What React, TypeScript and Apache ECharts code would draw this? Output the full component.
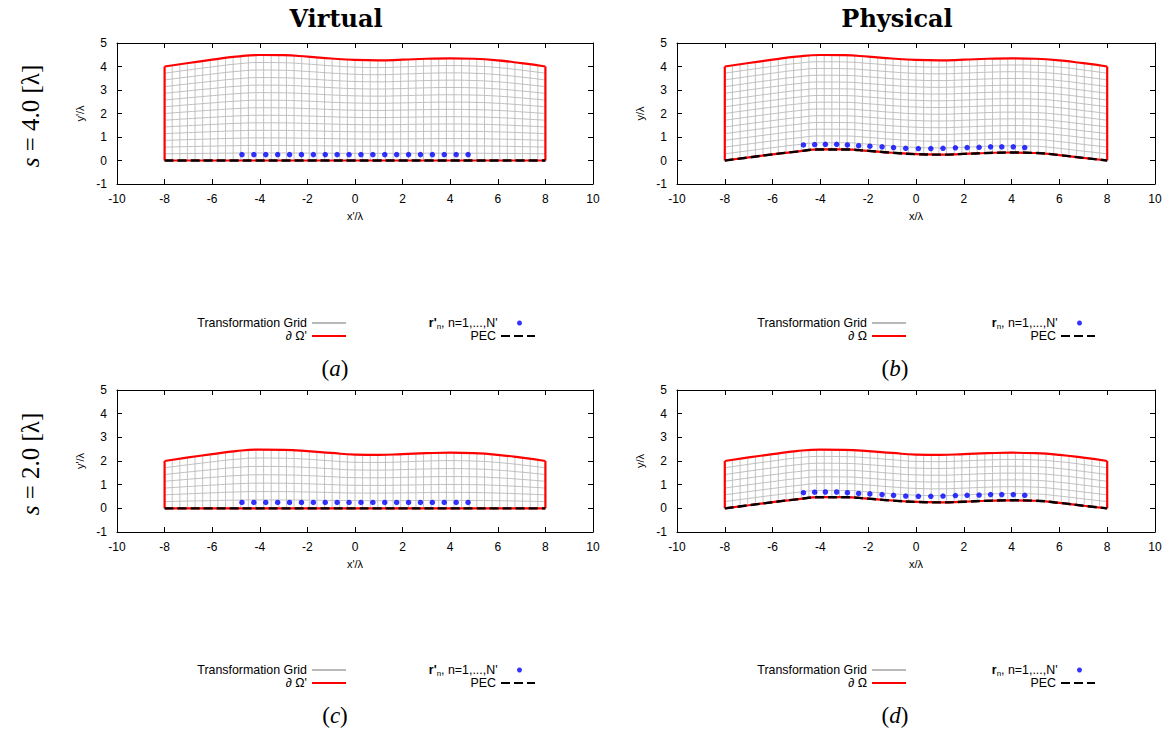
import React, { useEffect, useRef } from "react";
import * as echarts from "echarts";

// ---------- data ----------
const knotX = [-8, -7, -6, -5, -4, -3, -2, -1, 0, 1, 2, 3, 4, 5, 6, 7, 8];
const topS4 = [4.0, 4.15, 4.29, 4.42, 4.49, 4.48, 4.42, 4.34, 4.28, 4.26, 4.29, 4.33, 4.35, 4.33, 4.26, 4.14, 4.0];
const topS2 = [2.0, 2.15, 2.29, 2.42, 2.48, 2.47, 2.42, 2.34, 2.27, 2.26, 2.29, 2.33, 2.35, 2.33, 2.26, 2.14, 2.0];
const bottomVirtual = [0, 0, 0, 0, 0, 0, 0, 0, 0, 0, 0, 0, 0, 0, 0, 0, 0];
const bottomPhysical = [0.0, 0.13, 0.26, 0.38, 0.47, 0.47, 0.41, 0.33, 0.27, 0.25, 0.28, 0.32, 0.34, 0.32, 0.23, 0.11, 0.0];

const virtualPtX = [-4.75, -4.25, -3.75, -3.25, -2.75, -2.25, -1.75, -1.25, -0.75, -0.25, 0.25, 0.75, 1.25, 1.75, 2.25, 2.75, 3.25, 3.75, 4.25, 4.75];
const virtualPtY = [0.25, 0.25, 0.25, 0.25, 0.25, 0.25, 0.25, 0.25, 0.25, 0.25, 0.25, 0.25, 0.25, 0.25, 0.25, 0.25, 0.25, 0.25, 0.25, 0.25];
const physicalPtX = [-4.71, -4.24, -3.79, -3.32, -2.87, -2.4, -1.93, -1.42, -0.94, -0.43, 0.1, 0.62, 1.13, 1.65, 2.14, 2.64, 3.12, 3.59, 4.07, 4.55];
const physicalPtY = [0.66, 0.68, 0.69, 0.69, 0.66, 0.63, 0.61, 0.58, 0.55, 0.52, 0.51, 0.51, 0.52, 0.54, 0.55, 0.56, 0.58, 0.58, 0.58, 0.55];

const gridColumns = 50;
const gridRowsS4 = 14;
const gridRowsS2 = 7;

const xMin = -10, xMax = 10, xStep = 2;
const yMin = -1, yMax = 5, yStep = 1;

const columnTitles = ["Virtual", "Physical"];
const rowValues = ["4.0", "2.0"];
const panelLetters = ["a", "b", "c", "d"];

// ---------- helpers ----------
const SANS = '"Liberation Sans", Arial, sans-serif';
const SERIF = '"Liberation Serif", "Times New Roman", serif';
const BREAK: any[] = ["-", "-"];

function interp(xs: number[], ys: number[], x: number) {
  for (let k = 0; k < xs.length - 1; k++) {
    if (x >= xs[k] && x <= xs[k + 1]) {
      const t = (x - xs[k]) / (xs[k + 1] - xs[k]);
      return ys[k] + (ys[k + 1] - ys[k]) * t;
    }
  }
  return ys[ys.length - 1];
}

function buildMesh(bottom: number[], top: number[], rows: number, cols: number) {
  const out: any[] = [];
  for (let j = 1; j < rows; j++) {
    knotX.forEach((x, k) => out.push([x, bottom[k] + ((top[k] - bottom[k]) * j) / rows]));
    out.push(BREAK);
  }
  const x0 = knotX[0], x1 = knotX[knotX.length - 1];
  for (let i = 1; i < cols; i++) {
    const x = x0 + ((x1 - x0) * i) / cols;
    out.push([x, interp(knotX, bottom, x)]);
    out.push([x, interp(knotX, top, x)]);
    out.push(BREAK);
  }
  return out;
}

function buildBoundary(bottom: number[], top: number[]) {
  const n = knotX.length - 1;
  const out: any[] = [];
  knotX.forEach((x, k) => out.push([x, top[k]]));
  out.push(BREAK);
  out.push([knotX[0], bottom[0]], [knotX[0], top[0]]);
  out.push(BREAK);
  out.push([knotX[n], bottom[n]], [knotX[n], top[n]]);
  out.push(BREAK);
  knotX.forEach((x, k) => out.push([x, bottom[k]]));
  return out;
}

type Panel = {
  left: number; top: number; width: number; height: number;
  physical: boolean; topCurve: number[]; rows: number;
};

const panels: Panel[] = [
  { left: 117, top: 43, width: 476, height: 141, physical: false, topCurve: topS4, rows: gridRowsS4 },
  { left: 677, top: 43, width: 478, height: 141, physical: true, topCurve: topS4, rows: gridRowsS4 },
  { left: 117, top: 390, width: 476, height: 142, physical: false, topCurve: topS2, rows: gridRowsS2 },
  { left: 677, top: 390, width: 478, height: 142, physical: true, topCurve: topS2, rows: gridRowsS2 },
];

const GRID_NAME = "Transformation Grid";
const PEC_NAME = "PEC";

function buildOption() {
  const grid: any[] = [];
  const xAxis: any[] = [];
  const yAxis: any[] = [];
  const series: any[] = [];
  const legend: any[] = [];
  const graphic: any[] = [];

  const axisLine = { onZero: false, lineStyle: { color: "#000", width: 1 } };
  const axisTick = { inside: true, length: 5, lineStyle: { color: "#000", width: 1 } };

  panels.forEach((p, i) => {
    grid.push({ left: p.left, top: p.top, width: p.width, height: p.height, containLabel: false });
    const prime = p.physical ? "" : "'";
    xAxis.push({
      type: "value", gridIndex: i, min: xMin, max: xMax, interval: xStep, position: "bottom",
      name: `x${prime}/λ`, nameLocation: "middle", nameGap: 26,
      nameTextStyle: { fontSize: 11, fontFamily: SANS, color: "#000" },
      axisLine, axisTick,
      axisLabel: { margin: 9, fontSize: 12, fontFamily: SANS, color: "#000" },
      splitLine: { show: false },
    });
    xAxis.push({
      type: "value", gridIndex: i, min: xMin, max: xMax, interval: xStep, position: "top",
      axisLine, axisTick, axisLabel: { show: false }, splitLine: { show: false },
    });
    yAxis.push({
      type: "value", gridIndex: i, min: yMin, max: yMax, interval: yStep, position: "left",
      name: `y${prime}/λ`, nameLocation: "middle", nameGap: 32, nameRotate: 90,
      nameTextStyle: { fontSize: 11, fontFamily: SANS, color: "#000" },
      axisLine, axisTick,
      axisLabel: { margin: 10, fontSize: 12, fontFamily: SANS, color: "#000" },
      splitLine: { show: false },
    });
    yAxis.push({
      type: "value", gridIndex: i, min: yMin, max: yMax, interval: yStep, position: "right",
      axisLine, axisTick, axisLabel: { show: false }, splitLine: { show: false },
    });

    const bottom = p.physical ? bottomPhysical : bottomVirtual;
    const boundaryName = p.physical ? "∂ Ω" : "∂ Ω'";
    const ptsName = p.physical ? "rn" : "r'n";
    const xi = i * 2, yi = i * 2;

    series.push({
      type: "line", name: GRID_NAME, xAxisIndex: xi, yAxisIndex: yi,
      data: buildMesh(bottom, p.topCurve, p.rows, gridColumns),
      smooth: true, symbol: "none", connectNulls: false, z: 1,
      lineStyle: { color: "#b9b9b9", width: 0.9 }, itemStyle: { color: "#b9b9b9" },
      emphasis: { disabled: true }, silent: true,
    });
    series.push({
      type: "line", name: boundaryName, xAxisIndex: xi, yAxisIndex: yi,
      data: buildBoundary(bottom, p.topCurve),
      smooth: true, symbol: "none", connectNulls: false, z: 2,
      lineStyle: { color: "#ff0000", width: 2.2 }, itemStyle: { color: "#ff0000" },
      emphasis: { disabled: true }, silent: true,
    });
    series.push({
      type: "line", name: PEC_NAME, xAxisIndex: xi, yAxisIndex: yi,
      data: knotX.map((x, k) => [x, bottom[k]]),
      smooth: true, symbol: "none", z: 3,
      lineStyle: { color: "#000", width: 2.4, type: [9, 4] }, itemStyle: { color: "#000" },
      emphasis: { disabled: true }, silent: true,
    });
    const px = p.physical ? physicalPtX : virtualPtX;
    const py = p.physical ? physicalPtY : virtualPtY;
    series.push({
      type: "scatter", name: ptsName, xAxisIndex: xi, yAxisIndex: yi,
      data: px.map((x, k) => [x, py[k]]),
      symbol: "circle", symbolSize: 5.5, z: 4,
      itemStyle: { color: "#0000ff" }, emphasis: { disabled: true }, silent: true,
    });

    // legends (gnuplot style: text right-aligned, sample on the right)
    const dx = p.left - 117;
    const dy = p.top - 43;
    const mk = (name: string, rightEdge: number, cy: number, ih: number, isLine: boolean, formatter?: any) => ({
      data: [name], orient: "horizontal", align: "right", right: 1168 - rightEdge, top: cy - 7,
      itemWidth: 34, itemHeight: ih, padding: 0, selectedMode: false,
      ...(isLine ? { itemStyle: { opacity: 0, borderWidth: 0 }, lineStyle: { opacity: 1 } } : {}),
      textStyle: {
        fontSize: 12.4, fontFamily: SANS, color: "#000",
        rich: {
          b: { fontSize: 12.4, fontFamily: SANS, fontWeight: "bold", color: "#000" },
          s: { fontSize: 8, fontFamily: SANS, color: "#000", padding: [6, 0, 0, 0] },
          t: { fontSize: 12.4, fontFamily: SANS, color: "#000" },
        },
      },
      ...(formatter ? { formatter } : {}),
    });
    legend.push(mk(GRID_NAME, 347 + dx, 324 + dy, 14, true));
    legend.push(mk(boundaryName, 347 + dx, 337 + dy, 14, true));
    legend.push(
      mk(ptsName, 522 + dx, 324 + dy, 5, false, () =>
        p.physical ? "{b|r}{s|n}{t|, n=1,...,N'}" : "{b|r'}{s|n}{t|, n=1,...,N'}")
    );
    legend.push(mk(PEC_NAME, 536 + dx, 337 + dy, 14, true));

    graphic.push({
      type: "text", x: p.left + 218, y: p.top + 325, silent: true,
      style: {
        text: `({i|${panelLetters[i]}})`, fill: "#000",
        fontSize: 23, fontFamily: SERIF,
        align: "center", verticalAlign: "middle", textAlign: "center", textVerticalAlign: "middle",
        rich: { i: { fontSize: 23, fontFamily: SERIF, fontStyle: "italic", fill: "#000" } },
      },
    });
  });

  columnTitles.forEach((t, c) => {
    graphic.push({
      type: "text", x: c === 0 ? 336 : 897, y: 18, silent: true,
      style: {
        text: t, fill: "#000", fontSize: 24, fontWeight: "bold", fontFamily: '"DejaVu Serif", serif',
        align: "center", verticalAlign: "middle", textAlign: "center", textVerticalAlign: "middle",
      },
    });
  });

  rowValues.forEach((v, r) => {
    graphic.push({
      type: "text", x: 30, y: r === 0 ? 116 : 464, rotation: Math.PI / 2, silent: true,
      style: {
        text: `{i|s} = ${v} [λ]`, fill: "#000", fontSize: 25, fontFamily: SERIF,
        align: "center", verticalAlign: "middle", textAlign: "center", textVerticalAlign: "middle",
        rich: { i: { fontSize: 25, fontFamily: SERIF, fontStyle: "italic", fill: "#000" } },
      },
    });
  });

  return { animation: false, backgroundColor: "#fff", grid, xAxis, yAxis, series, legend, graphic };
}

export default function App() {
  const ref = useRef<HTMLDivElement>(null);
  useEffect(() => {
    if (!ref.current) return;
    const chart = echarts.init(ref.current, undefined, { renderer: "svg" });
    chart.setOption(buildOption() as any);
    return () => chart.dispose();
  }, []);
  return (
    <div
      ref={ref}
      style={{ position: "absolute", left: 0, top: 0, width: 1168, height: 736, background: "#fff" }}
    />
  );
}
